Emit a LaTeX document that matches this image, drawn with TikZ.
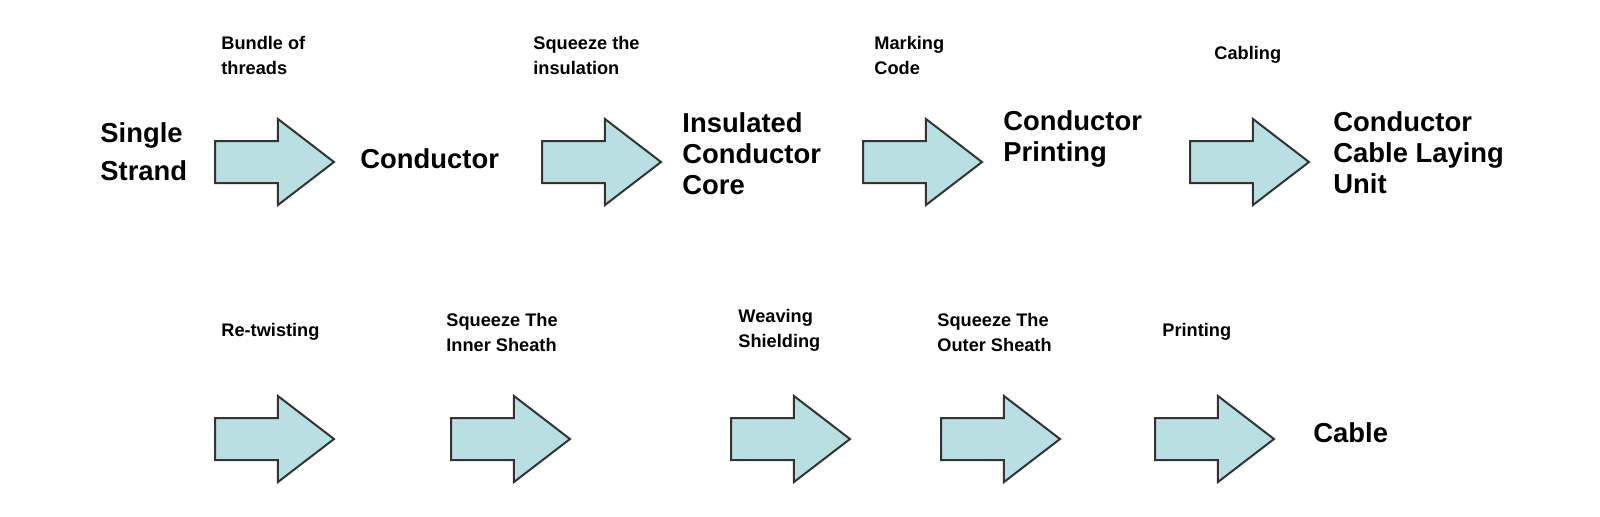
\documentclass[tikz,border=0pt]{standalone}
\usepackage{fontspec}
\setmainfont{Liberation Sans}
\usetikzlibrary{shapes.arrows}
\definecolor{arrowfill}{HTML}{B9DFE2}
\definecolor{arrowline}{HTML}{333333}

\begin{document}
\begin{tikzpicture}[
  x=0.5pt, y=-0.5pt,
  fatarrow/.style = {single arrow, draw=arrowline, fill=arrowfill, line width=1pt,
    minimum height=59.5pt, inner xsep=0pt, inner ysep=10pt,
    single arrow head extend=11pt, single arrow tip angle=75,
    single arrow head indent=0pt, anchor=tail},
  bigtext/.style = {anchor=west, align=left, inner sep=0pt,
    font=\bfseries\fontsize{13.7}{15.5}\selectfont},
  smalltext/.style = {anchor=west, align=left, inner sep=0pt,
    font=\bfseries\fontsize{9.1}{12.75}\selectfont}
]
  \useasboundingbox (0,0) rectangle (1600,516);

  % first row
  \node[bigtext] (single) at (100,152) {Single\\[3.5pt]Strand};
  \node[fatarrow] (a1) at (214,162) {};
  \node[smalltext] (bundle) at (221,55.5) {Bundle of\\threads};
  \node[bigtext] (conductor) at (360,159) {Conductor};
  \node[fatarrow] (a2) at (541,162) {};
  \node[smalltext] (squeeze) at (533,55.5) {Squeeze the\\insulation};
  \node[bigtext] (insulated) at (682,154) {Insulated\\Conductor\\Core};
  \node[fatarrow] (a3) at (862,162) {};
  \node[smalltext] (marking) at (874,55.5) {Marking\\Code};
  \node[bigtext] (printed) at (1003,139) {Conductor\\Printing};
  \node[fatarrow] (a4) at (1189,162) {};
  \node[smalltext] (cabling) at (1214,55) {Cabling};
  \node[bigtext] (laying) at (1333,153) {Conductor\\Cable Laying\\Unit};

  % second row
  \node[fatarrow] (b1) at (214,439) {};
  \node[smalltext] (retwist) at (221,331.5) {Re-twisting};
  \node[fatarrow] (b2) at (450,439) {};
  \node[smalltext] (inner) at (446,332.5) {Squeeze The\\Inner Sheath};
  \node[fatarrow] (b3) at (730,439) {};
  \node[smalltext] (weaving) at (738,330.5) {Weaving\\Shielding};
  \node[fatarrow] (b4) at (940,439) {};
  \node[smalltext] (outer) at (937,332.5) {Squeeze The\\Outer Sheath};
  \node[fatarrow] (b5) at (1154,439) {};
  \node[smalltext] (printing) at (1162,331.5) {Printing};
  \node[bigtext] (cable) at (1313,433) {Cable};
\end{tikzpicture}
\end{document}
